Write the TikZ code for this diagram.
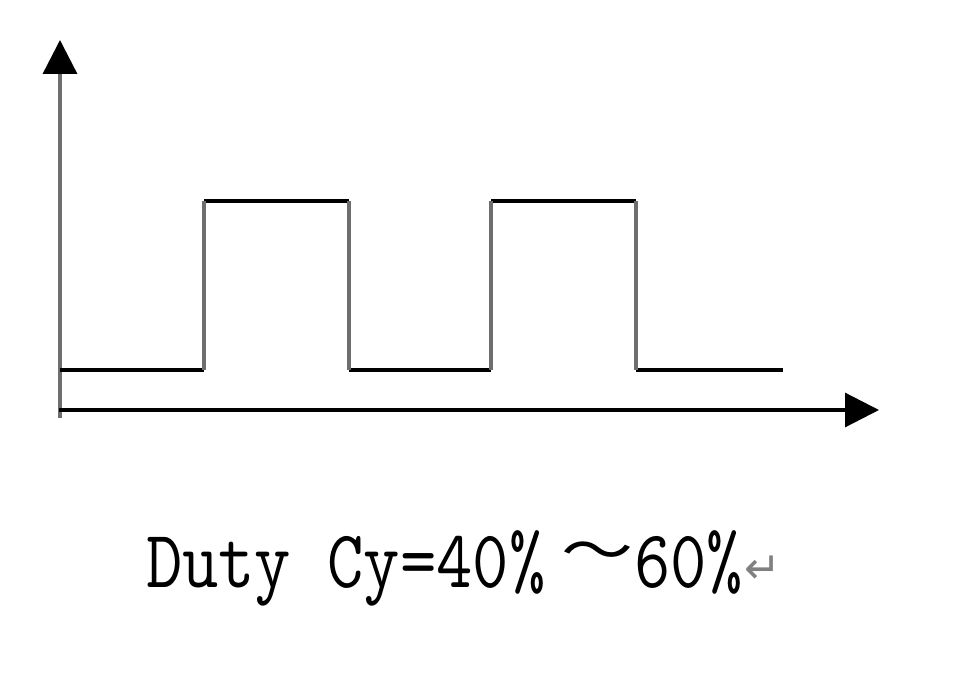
\documentclass[tikz,border=0pt]{standalone}
\usepackage{fontspec}
\usetikzlibrary{arrows.meta}
\newfontfamily\cjk{Noto Sans CJK SC}
\newfontfamily\symfnt{DejaVu Sans}
\definecolor{edgegray}{RGB}{110,110,110}
\definecolor{markgray}{RGB}{128,128,128}
\tikzset{
  hline/.style={line width=3.2pt, black},
  vline/.style={line width=3.4pt, edgegray},
  axistip/.style={-{Triangle[length=34pt,width=34pt,color=black,fill=black]}},
  txt/.style={inner sep=0pt, outer sep=0pt, text=black}
}
\begin{document}
\begin{tikzpicture}[x=1pt,y=-1pt]
\useasboundingbox (0,0) rectangle (964,684);
% axes
\coordinate (origin) at (60,418);
\coordinate (ytop) at (60,40);
\coordinate (xstart) at (59,410);
\coordinate (xend) at (879,410);
\draw[vline, axistip] (origin) -- (ytop);
\draw[hline, axistip] (xstart) -- (xend);
% waveform corners
\coordinate (w0) at (60,370);
\coordinate (w1) at (204,370);
\coordinate (w2) at (204,201);
\coordinate (w3) at (349,201);
\coordinate (w4) at (349,370);
\coordinate (w5) at (491,370);
\coordinate (w6) at (491,201);
\coordinate (w7) at (636,201);
\coordinate (w8) at (636,370);
\coordinate (w9) at (783,370);
\draw[hline] (w0) -- (w1);
\draw[hline] (w2) -- (w3);
\draw[hline] (w4) -- (w5);
\draw[hline] (w6) -- (w7);
\draw[hline] (w8) -- (w9);
\draw[vline] (w1) -- (w2);
\draw[vline] (w3) -- (w4);
\draw[vline] (w5) -- (w6);
\draw[vline] (w7) -- (w8);
% label
\node[txt, anchor=base west] (lblA) at (146,587) {\scalebox{0.86}[1]{\ttfamily\fontsize{82}{82}\selectfont Duty Cy=40\%}};
\node[txt] (lblB) at (597,557) {\scalebox{1}[0.8]{\cjk\fontsize{72}{72}\selectfont ～}};
\node[txt, anchor=base west] (lblC) at (634,587) {\scalebox{0.86}[1]{\ttfamily\fontsize{82}{82}\selectfont 60\%}};
\node[txt, text=markgray] (lblD) at (763,570) {\symfnt\fontsize{44}{44}\selectfont ↵};
\end{tikzpicture}
\end{document}
